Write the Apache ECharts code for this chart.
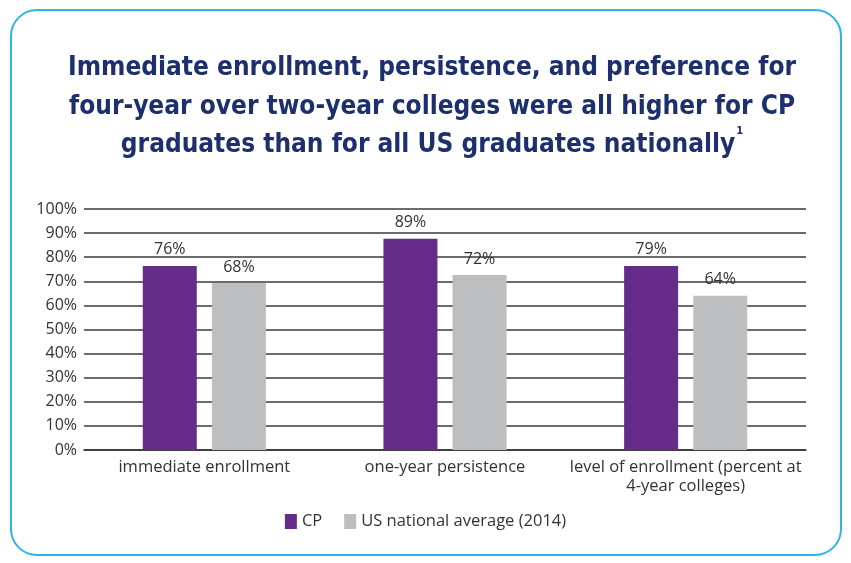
<!DOCTYPE html>
<html>
<head>
<meta charset="utf-8">
<script src="https://cdn.jsdelivr.net/npm/echarts@6/dist/echarts.min.js"></script>
<style>
html,body{margin:0;padding:0;background:#fff}
#main{width:851px;height:563px}
</style>
</head>
<body>
<div id="main"></div>
<script>
var categories = ['immediate enrollment', 'one-year persistence', 'level of enrollment (percent at\n4-year colleges)']
// bar heights as drawn in the picture, and the printed labels
var cpValues = [76.4, 87.7, 76.4]
var usValues = [69.3, 72.6, 64]
var cpLabels = ['76%', '89%', '79%']
var usLabels = ['68%', '72%', '64%']
var yTicks = [0, 10, 20, 30, 40, 50, 60, 70, 80, 90, 100]

var chart = echarts.init(document.getElementById('main'))
var bodyFont = '"Open Sans"'

function barLabel(labels){
	return {
		show: true,
		position: 'top',
		distance: 8,
		fontFamily: bodyFont,
		fontSize: 16,
		color: '#333',
		formatter: function(p){ return labels[p.dataIndex] }
	}
}

chart.setOption({
	animation: false,
	title: {
		text: 'Immediate enrollment, persistence, and preference for\nfour-year over two-year colleges were all higher for CP\ngraduates than for all US graduates nationally{s|1}',
		left: 427,
		top: 44,
		textAlign: 'center',
		textStyle: {
			fontFamily: '"DejaVu Sans Condensed", sans-serif',
			fontWeight: 'bold',
			fontSize: 26,
			lineHeight: 38.5,
			color: '#1E2F6E',
			rich: {
				s: {fontSize: 11, fontWeight: 'bold', color: '#1E2F6E', verticalAlign: 'top', lineHeight: 38.5, padding: [0, 0, 10, 1]}
			}
		}
	},
	graphic: [{
		type: 'rect',
		shape: {x: 11, y: 10, width: 830, height: 545, r: 26},
		style: {fill: 'none', stroke: '#2BB5E6', lineWidth: 2}
	}],
	legend: {
		bottom: 28,
		left: 'center',
		icon: 'rect',
		itemWidth: 12,
		itemHeight: 15,
		itemGap: 22,
		textStyle: {fontFamily: bodyFont, fontSize: 16.5, color: '#333'},
		data: ['CP', 'US national average (2014)']
	},
	grid: {left: 84, right: 45, top: 209, bottom: 113},
	xAxis: {
		type: 'category',
		data: categories,
		axisTick: {show: false},
		axisLine: {lineStyle: {color: '#333', width: 1.5}},
		axisLabel: {fontFamily: bodyFont, fontSize: 16.5, color: '#333', margin: 8, lineHeight: 19, interval: 0}
	},
	yAxis: {
		type: 'value',
		min: yTicks[0],
		max: yTicks[yTicks.length - 1],
		interval: 10,
		axisLine: {show: false},
		axisTick: {show: false},
		axisLabel: {fontFamily: bodyFont, fontSize: 16, color: '#333', margin: 7, formatter: '{value}%'},
		splitLine: {lineStyle: {color: '#3a3a3a', width: 1.5}}
	},
	series: [{
		name: 'CP',
		type: 'bar',
		data: cpValues,
		barWidth: 54,
		barGap: '28%',
		itemStyle: {color: '#652D89'},
		label: barLabel(cpLabels)
	}, {
		name: 'US national average (2014)',
		type: 'bar',
		data: usValues,
		barWidth: 54,
		itemStyle: {color: '#BCBEC0'},
		label: barLabel(usLabels)
	}]
})
</script>
</body>
</html>
